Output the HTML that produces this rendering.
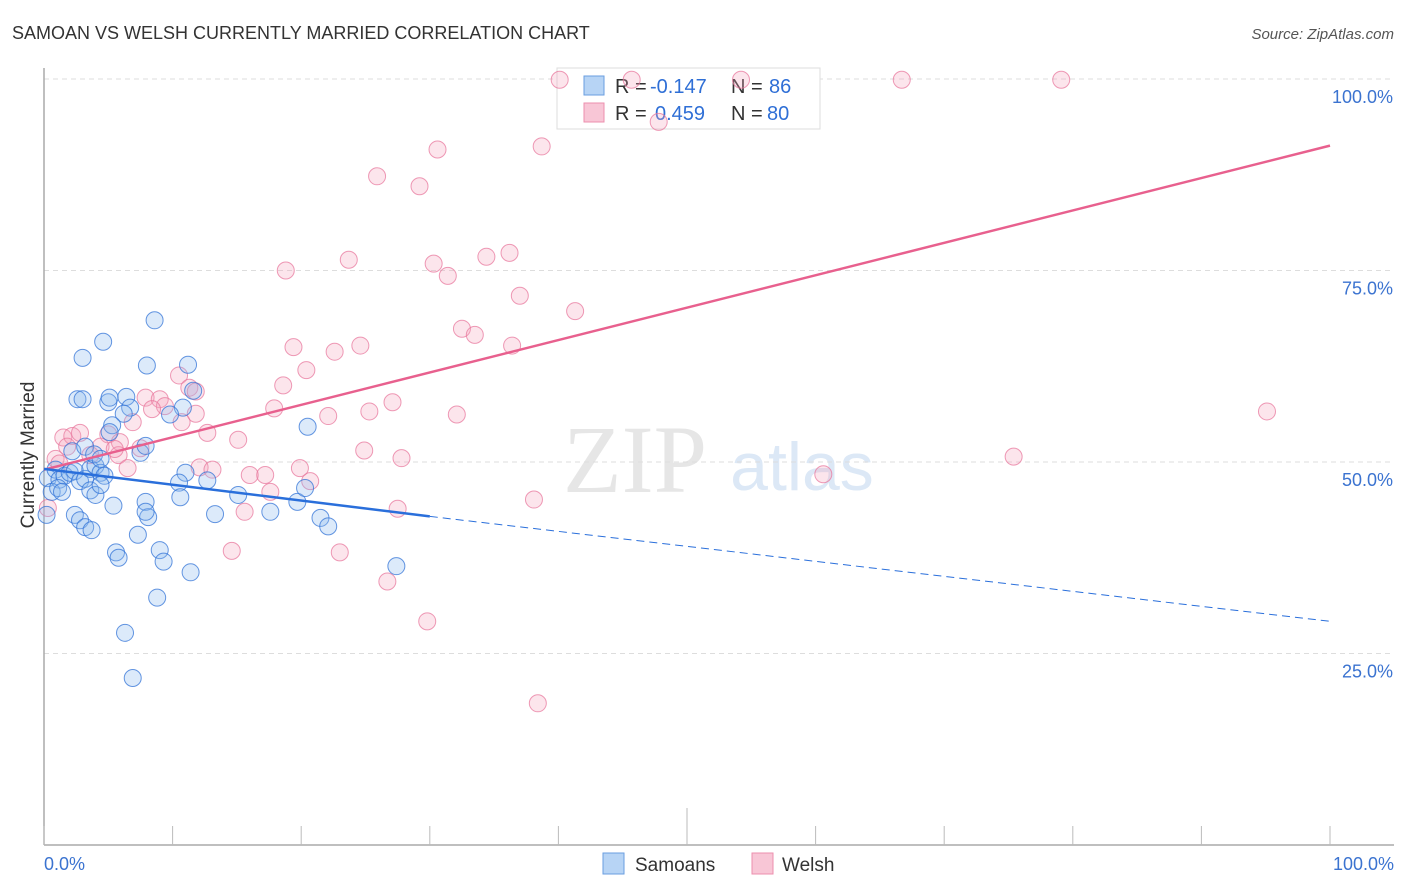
<!DOCTYPE html>
<html><head><meta charset="utf-8"><style>
body{margin:0;background:#fff;font-family:"Liberation Sans",sans-serif;}
#wrap{position:relative;width:1406px;height:892px;overflow:hidden}
</style></head><body><div id="wrap">
<svg id="svg" width="1406" height="892" xmlns="http://www.w3.org/2000/svg">
<text x="12" y="39" font-size="18" fill="#333">SAMOAN VS WELSH CURRENTLY MARRIED CORRELATION CHART</text>
<text x="1394" y="39" font-size="15" fill="#555" font-style="italic" text-anchor="end">Source: ZipAtlas.com</text>
<text x="635" y="492" font-size="96" fill="#e6e6e6" font-family="Liberation Serif,serif" text-anchor="middle">ZIP</text>
<text x="802" y="490" font-size="68" fill="#dce8f6" text-anchor="middle">atlas</text>
<text transform="translate(34,455) rotate(-90)" font-size="19" fill="#333" text-anchor="middle">Currently Married</text>
<g id="grid"></g>
<g>
<rect x="557" y="68" width="263" height="61" fill="#fff" stroke="#ddd"/>
<rect x="584" y="76" width="20" height="19" fill="#b7d4f5" stroke="#6a9ee0"/>
<rect x="584" y="103" width="20" height="19" fill="#f8c6d6" stroke="#ec8fae"/>
<text x="615" y="93" font-size="20" fill="#333">R =</text>
<text x="650" y="93" font-size="20" fill="#2f6fd6">-0.147</text>
<text x="731" y="93" font-size="20" fill="#333">N =</text>
<text x="769" y="93" font-size="20" fill="#2f6fd6">86</text>
<text x="615" y="120" font-size="20" fill="#333">R =</text>
<text x="655" y="120" font-size="20" fill="#2f6fd6">0.459</text>
<text x="731" y="120" font-size="20" fill="#333">N =</text>
<text x="767" y="120" font-size="20" fill="#2f6fd6">80</text>
</g>
<g id="pts"></g><g id="lines"></g>
<g>
<rect x="603" y="853" width="21" height="21" fill="#b7d4f5" stroke="#6a9ee0"/>
<text x="635" y="871" font-size="19" fill="#333">Samoans</text>
<rect x="752" y="853" width="21" height="21" fill="#f8c6d6" stroke="#ec8fae"/>
<text x="782" y="871" font-size="19" fill="#333">Welsh</text>
</g>
<text x="44" y="870" font-size="18" fill="#3b73d0">0.0%</text>
<text x="1394" y="870" font-size="18" fill="#3b73d0" text-anchor="end">100.0%</text>
</svg></div>
<script>
const yTicks=[25,50,75,100];
const yTickLabels=["25.0%","50.0%","75.0%","100.0%"];
const samX=[0.3,0.9,1.2,1.6,2,0.6,1.1,1.4,2.4,2.8,3.2,3.6,4,4.4,4.7,3.6,4,4.4,2.4,2.8,3.2,3.7,2.2,3.2,3.9,4.4,2.6,3,3,4.6,5,5.1,6.4,6.7,6.2,5.3,5.1,7.5,7.9,8,8.6,11.2,11.6,10.8,9.8,11,10.5,12.7,15.1,17.6,19.7,20.3,20.5,21.5,22.1,27.4,13.3,10.6,7.9,8.1,7.9,7.3,9,9.3,11.4,8.8,6.3,6.9,5.6,5.8,5.4,0.2];
const samY=[47.9,49,47.7,48.2,48.6,46.1,46.6,46.1,48.8,47.5,47.8,49.1,49.5,48.6,48.2,46.3,45.7,47,43.1,42.4,41.5,41.1,51.4,52,51,50.4,58.2,58.2,63.6,65.7,57.8,58.4,58.5,57.1,56.3,54.8,53.9,51.2,52.1,62.6,68.5,62.7,59.3,57.1,56.2,48.6,47.3,47.6,45.7,43.5,44.8,46.6,54.6,42.7,41.6,36.4,43.2,45.4,44.8,42.8,43.5,40.5,38.5,37,35.6,32.3,27.7,21.8,38.2,37.5,44.3,43.1];
const welX=[40.1,45.7,54.2,66.7,79.1,47.8,38.7,30.6,25.9,29.2,18.8,23.7,30.3,31.4,34.4,36.2,37,41.3,32.5,33.5,36.4,19.4,22.6,24.6,20.4,18.6,10.5,11.3,11.8,7.9,9,9.4,8.4,11.8,10.7,6.9,17.9,22.1,25.3,27.1,32.1,12.7,15.1,5,5.9,7.5,24.9,27.8,5.8,6.5,12.1,13.1,16,17.2,19.9,20.7,17.6,15.6,14.6,23,27.5,26.7,29.8,38.1,38.4,60.6,75.4,95.1,1.5,2.2,2.8,1.8,0.9,1.2,0.3,4.4,5.5,3.6];
const welY=[99.9,99.9,99.9,99.9,99.9,94.4,91.2,90.8,87.3,86,75,76.4,75.9,74.3,76.8,77.3,71.7,69.7,67.4,66.6,65.2,65,64.4,65.2,62,60,61.3,59.7,59.2,58.4,58.2,57.3,56.9,56.3,55.2,55.2,57,56,56.6,57.8,56.2,53.8,52.9,53.6,52.6,51.8,51.5,50.5,50.9,49.2,49.3,49,48.3,48.3,49.2,47.5,46.1,43.5,38.4,38.2,43.9,34.4,29.2,45.1,18.5,48.4,50.7,56.6,53.2,53.4,53.8,52,50.4,49.8,44,52,51.7,50.9];
const trend={samoans:[49.1,42.9,29.2],welsh:[49,91.3]};
const X=v=>44+v*12.86, Y=v=>845-v*7.66;
const NS="http://www.w3.org/2000/svg";
function mk(t,a,p){const e=document.createElementNS(NS,t);for(const k in a)e.setAttribute(k,a[k]);p.appendChild(e);return e;}
const grid=document.getElementById('grid');
yTicks.forEach((t,i)=>{
 const l=mk('line',{x1:44,x2:1394,y1:Y(t),y2:Y(t),stroke:'#ddd','stroke-dasharray':'5,4'},grid);
 
 
 const tx=mk('text',{x:1393,y:Y(t)+24,'font-size':18,fill:'#3b73d0','text-anchor':'end'},grid);
 tx.textContent=yTickLabels[i];
 
 
});
mk('line',{x1:44,x2:44,y1:68,y2:845,stroke:'#aaa','stroke-width':1.5},grid);
mk('line',{x1:44,x2:1394,y1:845,y2:845,stroke:'#aaa','stroke-width':1.5},grid);
for(let i=0;i<=10;i++){const x=X(i*10);const t=mk('line',{x1:x,x2:x,y1:i==5?808:826,y2:845,stroke:'#bbb'},grid);
 
 }
const pts=document.getElementById('pts');
welX.forEach((v,i)=>{const c=mk('circle',{cx:X(v),cy:Y(welY[i]),r:8.5,fill:'rgba(244,160,188,0.28)',stroke:'rgba(232,120,158,0.75)','stroke-width':1},pts);
 
 });
samX.forEach((v,i)=>{const c=mk('circle',{cx:X(v),cy:Y(samY[i]),r:8.5,fill:'rgba(140,185,240,0.3)',stroke:'rgba(50,115,215,0.75)','stroke-width':1},pts);
 
 });
const ln=document.getElementById('lines');
let a=mk('line',{x1:X(0),y1:Y(trend.welsh[0]),x2:X(100),y2:Y(trend.welsh[1]),stroke:'#e8608e','stroke-width':2.5},ln);


a=mk('line',{x1:X(0),y1:Y(trend.samoans[0]),x2:X(30),y2:Y(trend.samoans[1]),stroke:'#2a6fdb','stroke-width':2.5},ln);


a=mk('line',{x1:X(30),y1:Y(trend.samoans[1]),x2:X(100),y2:Y(trend.samoans[2]),stroke:'#2a6fdb','stroke-width':1,'stroke-dasharray':'8,5'},ln);


</script></body></html>
